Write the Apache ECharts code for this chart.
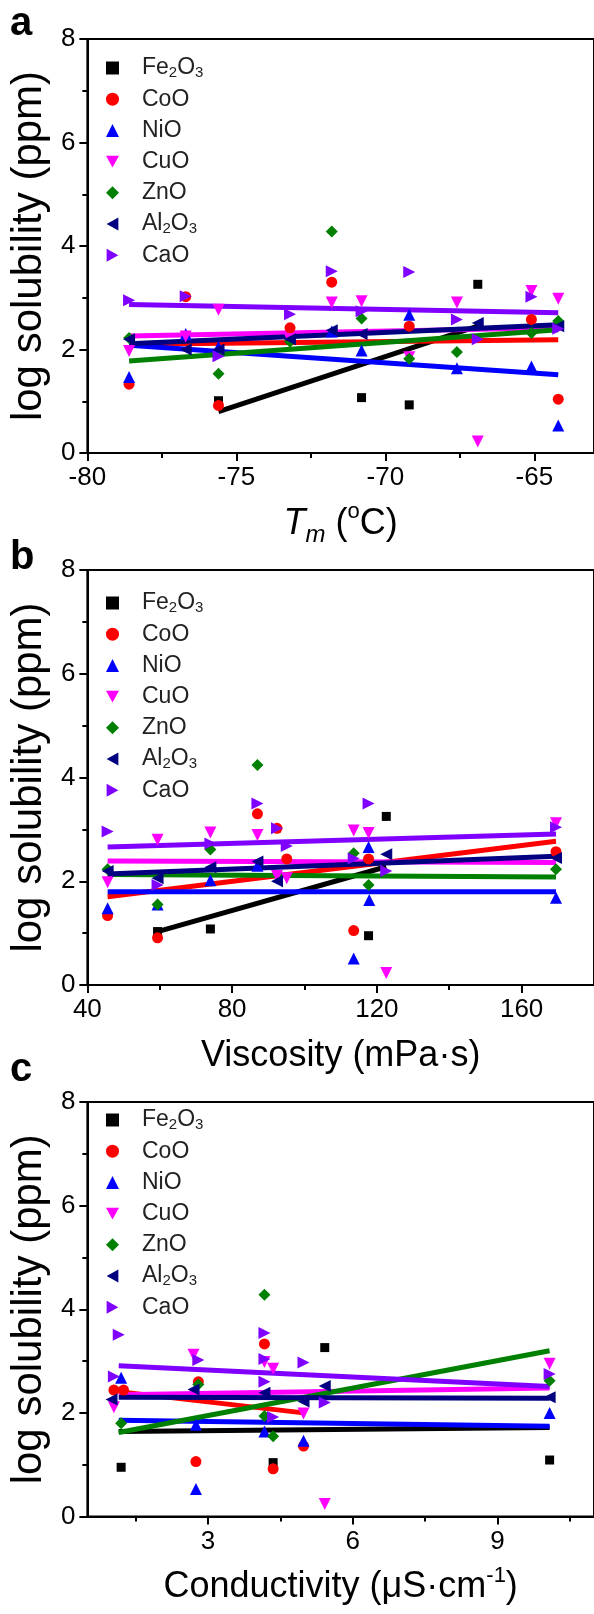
<!DOCTYPE html>
<html><head><meta charset="utf-8">
<script src="https://cdn.jsdelivr.net/npm/echarts@6/dist/echarts.min.js"></script>
<style>html,body{margin:0;padding:0;background:#fff}#c{width:594px;height:1614px}</style>
</head><body><div id="c"></div>
<script>
// ---- series definitions ----
const names = ['Fe2O3','CoO','NiO','CuO','ZnO','Al2O3','CaO'];
const colors = ['#000000','#ff0000','#0000ff','#ff00ff','#008000','#000080','#7f00ff'];
const symbols = ['rect','circle','triangle','path://M0,0 L10,0 L5,9 Z','diamond','path://M9,0 L9,10 L0,5 Z','path://M0,0 L0,10 L9,5 Z'];
const symSizes = [9,11,12,12,12,12,12];

// ---- panel a : Tm (°C) ----
const a_Fe2O3 = [[-75.6,1.01],[-70.8,1.07],[-69.2,0.93],[-66.9,3.26]];
const a_CoO   = [[-78.6,1.33],[-76.7,3.02],[-75.6,0.92],[-73.2,2.42],[-71.8,3.30],[-69.2,2.45],[-65.1,2.58],[-64.2,1.04]];
const a_NiO   = [[-78.6,1.47],[-76.7,2.30],[-75.6,2.05],[-71.8,2.35],[-70.8,1.98],[-69.2,2.67],[-67.6,1.64],[-65.1,1.67],[-64.2,0.53]];
const a_CuO   = [[-78.6,1.97],[-76.7,2.25],[-75.6,2.77],[-73.2,2.19],[-71.8,2.91],[-70.8,2.93],[-69.2,1.85],[-67.6,2.91],[-66.9,0.22],[-65.1,3.13],[-64.2,2.98]];
const a_ZnO   = [[-78.6,2.22],[-75.6,1.53],[-73.2,2.15],[-71.8,4.28],[-70.8,2.60],[-69.2,1.82],[-67.6,1.95],[-65.1,2.32],[-64.2,2.55]];
const a_Al2O3 = [[-78.6,2.20],[-76.7,2.00],[-75.6,2.00],[-73.2,2.20],[-71.8,2.37],[-70.8,2.30],[-66.9,2.51],[-64.2,2.45]];
const a_CaO   = [[-78.6,2.95],[-76.7,3.03],[-75.6,1.87],[-73.2,2.68],[-71.8,3.51],[-70.8,2.74],[-69.2,3.50],[-67.6,2.58],[-66.9,2.20],[-65.1,3.02],[-64.2,2.40]];
const a_fit = {
  Fe2O3:[[-75.6,0.80],[-66.9,2.45]], CoO:[[-78.6,2.10],[-64.2,2.19]], NiO:[[-78.6,2.08],[-64.2,1.51]],
  CuO:[[-78.6,2.26],[-64.2,2.42]], ZnO:[[-78.6,1.78],[-64.2,2.38]], Al2O3:[[-78.6,2.11],[-64.2,2.48]], CaO:[[-78.6,2.87],[-64.2,2.71]]
};
const a_major = [-80,-75,-70,-65];
const a_minor = [-77.5,-72.5,-67.5];

// ---- panel b : Viscosity (mPa·s) ----
const b_Fe2O3 = [[59.4,1.03],[74.0,1.08],[117.7,0.95],[122.6,3.25]];
const b_CoO   = [[45.6,1.34],[59.4,0.91],[87.0,3.30],[92.4,3.02],[95.1,2.43],[113.6,1.05],[117.7,2.43],[169.5,2.57]];
const b_NiO   = [[45.6,1.48],[59.4,1.55],[74.0,2.02],[87.0,2.30],[113.6,0.51],[117.7,2.66],[117.9,1.64],[169.5,1.68]];
const b_CuO   = [[45.6,1.98],[59.4,2.80],[74.0,2.94],[87.0,2.89],[92.4,2.10],[95.1,2.06],[113.6,2.98],[117.7,2.93],[122.6,0.23],[169.5,3.12]];
const b_ZnO   = [[45.6,2.23],[59.4,1.55],[74.0,2.61],[87.0,4.24],[113.6,2.54],[117.7,1.93],[169.5,2.23]];
const b_Al2O3 = [[45.6,2.20],[59.4,2.06],[74.0,2.27],[87.0,2.38],[92.4,2.00],[122.6,2.52],[169.5,2.45]];
const b_CaO   = [[45.6,2.96],[59.4,1.93],[74.0,2.73],[87.0,3.50],[92.4,3.02],[95.1,2.68],[113.6,2.44],[117.7,3.50],[122.6,2.20],[169.5,3.04]];
const b_fit = {
  Fe2O3:[[59.4,1.03],[122.6,2.28]], CoO:[[45.6,1.70],[169.5,2.77]], NiO:[[45.6,1.80],[169.5,1.80]],
  CuO:[[45.6,2.39],[169.5,2.36]], ZnO:[[45.6,2.13],[169.5,2.08]], Al2O3:[[45.6,2.14],[169.5,2.48]], CaO:[[45.6,2.66],[169.5,2.91]]
};
const b_major = [40,80,120,160];
const b_minor = [60,100,140];

// ---- panel c : Conductivity (µS·cm-1) ----
const c_Fe2O3 = [[1.2,0.95],[4.35,1.04],[5.42,3.26],[10.08,1.09]];
const c_CoO   = [[1.05,2.44],[1.25,2.44],[2.80,2.60],[2.75,1.06],[4.17,3.33],[4.35,0.92],[4.98,1.36]];
const c_NiO   = [[1.2,2.68],[2.75,1.77],[2.75,0.53],[4.17,1.64],[4.98,1.46],[10.08,2.00]];
const c_CuO   = [[1.05,2.11],[2.70,3.12],[4.17,2.98],[4.35,2.85],[4.98,1.99],[5.42,0.24],[10.08,2.95]];
const c_ZnO   = [[1.2,1.80],[2.80,2.55],[4.17,4.28],[4.17,1.94],[4.35,1.55],[10.08,2.62]];
const c_Al2O3 = [[1.0,2.26],[2.70,2.45],[4.17,2.39],[4.98,2.22],[5.42,2.52],[10.08,2.30]];
const c_CaO   = [[1.15,3.51],[1.05,2.70],[2.80,3.02],[4.17,3.54],[4.17,3.04],[4.17,2.60],[4.35,1.92],[4.98,2.97],[5.42,2.20],[10.08,2.75]];
const c_fit = {
  Fe2O3:[[1.15,1.64],[10.08,1.72]], CoO:[[1.15,2.41],[4.98,2.00]], NiO:[[1.15,1.86],[10.08,1.74]],
  CuO:[[1.15,2.35],[10.08,2.48]], ZnO:[[1.15,1.62],[10.08,3.20]], Al2O3:[[1.15,2.30],[10.08,2.28]], CaO:[[1.15,2.91],[10.08,2.51]]
};
const c_major = [3,6,9];
const c_minor = [1.5,4.5,7.5,10.5];

const panels = [
  {data:[a_Fe2O3,a_CoO,a_NiO,a_CuO,a_ZnO,a_Al2O3,a_CaO], fit:a_fit, min:-80, max:-63, major:a_major, minor:a_minor,
   name:'{i|T}{si|m} {n|(}{sp|o}{n|C)}', top:39, height:414, letter:'a', letterTop:4, legTop:56},
  {data:[b_Fe2O3,b_CoO,b_NiO,b_CuO,b_ZnO,b_Al2O3,b_CaO], fit:b_fit, min:40, max:180, major:b_major, minor:b_minor,
   name:'Viscosity (mPa·s)', top:570, height:415, letter:'b', letterTop:538, legTop:591},
  {data:[c_Fe2O3,c_CoO,c_NiO,c_CuO,c_ZnO,c_Al2O3,c_CaO], fit:c_fit, min:0.5, max:11, major:c_major, minor:c_minor,
   name:'Conductivity (μS·cm{sp|-1})', top:1102, height:414.5, letter:'c', letterTop:1050, legTop:1108}
];

const FONT = '"Liberation Sans", Arial, sans-serif';
const TFS = 36;
const grid=[], xAxis=[], yAxis=[], series=[], legend=[], graphic=[];
const titleRich = {
  i:{fontStyle:'italic', fontSize:TFS, fontFamily:FONT, color:'#000', lineHeight:46},
  n:{fontSize:TFS, fontFamily:FONT, color:'#000', lineHeight:46},
  si:{fontStyle:'italic', fontSize:24, fontFamily:FONT, color:'#000', verticalAlign:'bottom', lineHeight:46},
  sp:{fontSize:22, fontFamily:FONT, color:'#000', verticalAlign:'top', lineHeight:46}
};
panels.forEach((p,k)=>{
  grid.push({left:81, top:p.top, width:517, height:p.height, show:true, borderColor:'#000', borderWidth:2, backgroundColor:'transparent'});
  xAxis.push({type:'value', gridIndex:k, min:p.min, max:p.max, position:'bottom',
    name:p.name, nameLocation:'middle', nameGap:48,
    nameTextStyle:{fontSize:TFS, fontFamily:FONT, color:'#000', lineHeight:46, rich:titleRich},
    axisLine:{show:true, onZero:false, lineStyle:{color:'#000', width:2}},
    axisTick:{show:true, length:8, customValues:p.major, lineStyle:{color:'#000', width:2}},
    axisLabel:{show:true, customValues:p.major, margin:12, fontSize:26, fontFamily:FONT, color:'#000'},
    splitLine:{show:false}});
  yAxis.push({type:'value', gridIndex:k, min:0, max:8, interval:2,
    name:'log solubility (ppm)', nameLocation:'middle', nameGap:34,
    nameTextStyle:{fontSize:42, fontFamily:FONT, color:'#000'},
    axisLine:{show:true, onZero:false, lineStyle:{color:'#000', width:2}},
    axisTick:{show:true, length:8, lineStyle:{color:'#000', width:2}},
    minorTick:{show:true, splitNumber:2, length:5, lineStyle:{color:'#000', width:2}},
    axisLabel:{margin:12, fontSize:26, fontFamily:FONT, color:'#000'},
    splitLine:{show:false}});
  graphic.push({type:'text', left:10, top:p.letterTop, style:{text:p.letter, font:'bold 40px '+FONT, fill:'#000'}});
  legend.push({orient:'vertical', left:106, top:p.legTop, padding:0, itemGap:7.2, itemWidth:13, itemHeight:13,
    selectedMode:false,
    data:names.map((n,i)=>({name:n, icon:symbols[i], itemStyle:{color:colors[i]}})),
    formatter: n => ({Fe2O3:'Fe{s|2}O{s|3}', Al2O3:'Al{s|2}O{s|3}'}[n] || n),
    textStyle:{fontSize:23, fontFamily:FONT, color:'#222', lineHeight:24, padding:[0,0,0,18],
      rich:{s:{fontSize:15, fontFamily:FONT, color:'#222', verticalAlign:'bottom', lineHeight:24}}}});
});
// minor x ticks
panels.forEach((p,k)=>{
  xAxis.push({type:'value', gridIndex:k, min:p.min, max:p.max, position:'bottom',
    axisLine:{show:false}, axisLabel:{show:false}, splitLine:{show:false},
    axisTick:{show:true, length:5, customValues:p.minor, lineStyle:{color:'#000', width:2}}});
});
panels.forEach((p,k)=>{
  names.forEach((n,i)=>{
    series.push({type:'line', name:n+' fit', xAxisIndex:k, yAxisIndex:k, data:p.fit[n], showSymbol:false,
      lineStyle:{color:colors[i], width:5}, z:2, silent:true});
  });
  names.forEach((n,i)=>{
    series.push({type:'scatter', name:n, xAxisIndex:k, yAxisIndex:k, data:p.data[i],
      symbol:symbols[i], symbolSize:symSizes[i], itemStyle:{color:colors[i], opacity:1}, z:3});
  });
});

const chart = echarts.init(document.getElementById('c'), null, {renderer:'canvas'});
chart.setOption({animation:false, backgroundColor:'#fff', grid, xAxis, yAxis, series, legend, graphic});
</script></body></html>
